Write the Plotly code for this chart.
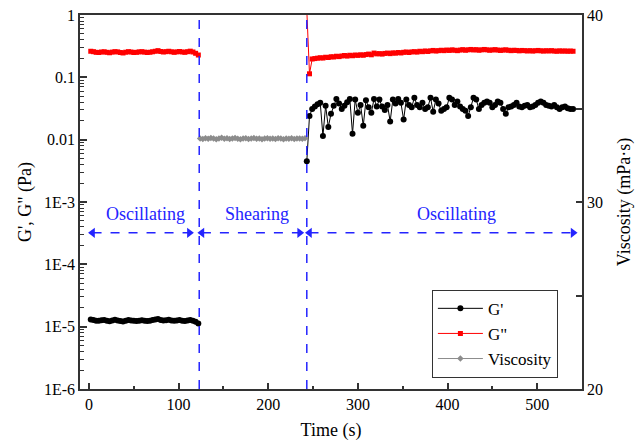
import plotly.graph_objects as go

# ---- Data -------------------------------------------------------------
# Oscillation step 1 (0-122 s)
t_osc1 = [2, 5, 8, 11, 14, 17, 20, 23, 26, 29, 32, 35, 38, 41, 44, 47, 50, 53, 56, 59,
          62, 65, 68, 71, 74, 77, 80, 83, 86, 89, 92, 95, 98, 101, 104, 107, 110, 113,
          116, 119, 122]
gp_osc1 = [1.30e-5, 1.28e-5, 1.24e-5, 1.25e-5, 1.27e-5, 1.28e-5, 1.24e-5, 1.22e-5, 1.26e-5,
           1.29e-5, 1.26e-5, 1.23e-5, 1.21e-5, 1.25e-5, 1.28e-5, 1.26e-5, 1.24e-5, 1.23e-5,
           1.25e-5, 1.27e-5, 1.25e-5, 1.23e-5, 1.25e-5, 1.28e-5, 1.30e-5, 1.33e-5, 1.28e-5,
           1.26e-5, 1.27e-5, 1.29e-5, 1.26e-5, 1.24e-5, 1.26e-5, 1.28e-5, 1.25e-5, 1.23e-5,
           1.26e-5, 1.28e-5, 1.24e-5, 1.20e-5, 1.12e-5]
gpp_osc1 = [0.262, 0.258, 0.252, 0.250, 0.255, 0.257, 0.252, 0.248, 0.254, 0.258, 0.256,
            0.250, 0.246, 0.253, 0.258, 0.255, 0.250, 0.252, 0.256, 0.258, 0.254, 0.250,
            0.253, 0.257, 0.262, 0.268, 0.260, 0.255, 0.258, 0.262, 0.257, 0.252, 0.256,
            0.260, 0.255, 0.252, 0.258, 0.263, 0.255, 0.243, 0.228]

# Steady shear step (124-241 s)
t_shear = [124, 127, 130, 133, 136, 139, 142, 145, 148, 151, 154, 157, 160, 163, 166, 169,
           172, 175, 178, 181, 184, 187, 190, 193, 196, 199, 202, 205, 208, 211, 214, 217,
           220, 223, 226, 229, 232, 235, 238, 241]
visc = [33.40, 33.37, 33.41, 33.38, 33.42, 33.39, 33.36, 33.40, 33.43, 33.38, 33.41, 33.37,
        33.40, 33.42, 33.38, 33.36, 33.40, 33.41, 33.37, 33.39, 33.42, 33.38, 33.40, 33.36,
        33.39, 33.41, 33.38, 33.40, 33.37, 33.41, 33.39, 33.36, 33.40, 33.38, 33.41, 33.37,
        33.39, 33.40, 33.38, 33.41]

# Oscillation step 2 (243-540 s)
t_osc2 = [243, 246, 249, 252, 255, 258, 261, 264, 267, 270, 273, 276, 279, 282, 285, 288,
          291, 294, 297, 300, 303, 306, 309, 312, 315, 318, 321, 324, 327, 330, 333, 336,
          339, 342, 345, 348, 351, 354, 357, 360, 363, 366, 369, 372, 375, 378, 381, 384,
          387, 390, 393, 396, 399, 402, 405, 408, 411, 414, 417, 420, 423, 426, 429, 432,
          435, 438, 441, 444, 447, 450, 453, 456, 459, 462, 465, 468, 471, 474, 477, 480,
          483, 486, 489, 492, 495, 498, 501, 504, 507, 510, 513, 516, 519, 522, 525, 528,
          531, 534, 537, 540]
gp_osc2 = [0.0045, 0.024, 0.031, 0.034, 0.037, 0.039, 0.0115, 0.035, 0.016, 0.026,
           0.035, 0.045, 0.038, 0.031, 0.035, 0.040, 0.045, 0.0124, 0.044, 0.027,
           0.036, 0.0167, 0.043, 0.033, 0.027, 0.045, 0.034, 0.044, 0.034, 0.030,
           0.036, 0.0196, 0.044, 0.038, 0.045, 0.039, 0.021, 0.044, 0.036, 0.033,
           0.047, 0.036, 0.033, 0.039, 0.031, 0.033, 0.047, 0.028, 0.044, 0.038,
           0.029, 0.031, 0.033, 0.047, 0.044, 0.036, 0.041, 0.034, 0.031, 0.029,
           0.024, 0.033, 0.047, 0.044, 0.031, 0.036, 0.039, 0.041, 0.039, 0.033,
           0.036, 0.041, 0.039, 0.031, 0.026, 0.033, 0.034, 0.036, 0.039, 0.034,
           0.033, 0.035, 0.036, 0.033, 0.034, 0.036, 0.039, 0.041, 0.039, 0.036,
           0.035, 0.034, 0.036, 0.033, 0.031, 0.033, 0.034, 0.032, 0.031, 0.031]
gpp_osc2 = [1.20, 0.114, 0.197, 0.200, 0.203, 0.206, 0.204, 0.210, 0.208, 0.214,
            0.212, 0.218, 0.215, 0.220, 0.224, 0.219, 0.226, 0.222, 0.228, 0.225,
            0.230, 0.226, 0.232, 0.236, 0.230, 0.245, 0.238, 0.240, 0.236, 0.242,
            0.245, 0.240, 0.247, 0.244, 0.250, 0.246, 0.252, 0.255, 0.250, 0.256,
            0.258, 0.254, 0.262, 0.258, 0.265, 0.260, 0.266, 0.270, 0.264, 0.268,
            0.272, 0.268, 0.274, 0.270, 0.276, 0.272, 0.268, 0.274, 0.278, 0.272,
            0.276, 0.280, 0.275, 0.278, 0.272, 0.276, 0.280, 0.276, 0.272, 0.275,
            0.278, 0.274, 0.270, 0.274, 0.276, 0.272, 0.268, 0.272, 0.270, 0.266,
            0.270, 0.268, 0.265, 0.268, 0.264, 0.267, 0.270, 0.266, 0.264, 0.267,
            0.265, 0.268, 0.264, 0.262, 0.266, 0.263, 0.265, 0.262, 0.264, 0.262]

# Step boundaries and step labels
step_bounds = [123, 243]
step_names = ["Oscillating", "Shearing", "Oscillating"]
step_label_x = [63, 187, 410]
step_spans = [(4, 112), (126, 235), (246, 540)]

y_ticks = [1e-6, 1e-5, 1e-4, 1e-3, 1e-2, 1e-1, 1]
y_ticktext = ["1E-6", "1E-5", "1E-4", "1E-3", "0.01", "0.1", "1"]
y_minor = [m * 10.0 ** e for e in range(-6, 0) for m in range(2, 10)]

# ---- Figure -----------------------------------------------------------
FONT = "Liberation Serif"
BLUE = "#2424ff"
AXIS = "#333333"

fig = go.Figure()

fig.add_trace(go.Scatter(
    x=t_osc1 + [None] + t_osc2, y=gp_osc1 + [None] + gp_osc2,
    name="G'", mode="lines+markers",
    line=dict(color="black", width=1),
    marker=dict(symbol="circle", size=6, color="black"),
))
fig.add_trace(go.Scatter(
    x=t_osc1 + [None] + t_osc2, y=gpp_osc1 + [None] + gpp_osc2,
    name='G"', mode="lines+markers",
    line=dict(color="red", width=1),
    marker=dict(symbol="square", size=5, color="red"),
))
fig.add_trace(go.Scatter(
    x=t_shear, y=visc, name="Viscosity", mode="lines+markers", yaxis="y2",
    line=dict(color="#8c8c8c", width=1),
    marker=dict(symbol="diamond", size=5, color="#8c8c8c"),
))

# Double-headed dashed arrows spanning each step
arrow_y = 3.2e-4
for x0, x1 in step_spans:
    fig.add_trace(go.Scatter(
        x=[x0, x1], y=[arrow_y, arrow_y], mode="lines+markers", showlegend=False,
        hoverinfo="skip",
        line=dict(color=BLUE, width=1.5, dash="dash"),
        marker=dict(symbol=["triangle-left", "triangle-right"], size=9, color=BLUE),
    ))

for xs, name in zip(step_label_x, step_names):
    fig.add_annotation(x=xs, y=-3.2, xref="x", yref="y", text=name, showarrow=False,
                       font=dict(family=FONT, size=18, color=BLUE))

for xb in step_bounds:
    fig.add_shape(type="line", x0=xb, x1=xb, y0=0, y1=1, xref="x", yref="paper",
                  line=dict(color=BLUE, width=1.5, dash="dash"))

fig.update_layout(
    width=640, height=441,
    margin=dict(l=80, r=58, t=15, b=52),
    paper_bgcolor="white", plot_bgcolor="white",
    font=dict(family=FONT, size=16, color="black"),
    showlegend=True,
    legend=dict(x=0.952, xanchor="right", y=0.03, yanchor="bottom",
                bgcolor="white", bordercolor=AXIS, borderwidth=1,
                font=dict(family=FONT, size=17, color="black"),
                itemwidth=45, tracegroupgap=0),
    xaxis=dict(
        range=[-10, 550], tickmode="array", tickvals=[0, 100, 200, 300, 400, 500],
        ticks="inside", ticklen=6, tickwidth=1.5, tickcolor=AXIS,
        minor=dict(tickmode="array", tickvals=[50, 150, 250, 350, 450],
                   ticks="inside", ticklen=3.5, tickwidth=1.5, tickcolor=AXIS),
        showline=True, linecolor=AXIS, linewidth=1.5, mirror=True,
        showgrid=False, zeroline=False, automargin=False,
        title=dict(text="Time (s)", font=dict(family=FONT, size=18), standoff=14),
        tickfont=dict(family=FONT, size=16),
    ),
    yaxis=dict(
        type="log", range=[-6, 0], tickmode="array", tickvals=y_ticks, ticktext=y_ticktext,
        ticks="inside", ticklen=7, tickwidth=1.5, tickcolor=AXIS,
        minor=dict(tickmode="array", tickvals=y_minor, ticks="inside", ticklen=4,
                   tickwidth=1, tickcolor=AXIS),
        showline=True, linecolor=AXIS, linewidth=1.5,
        showgrid=False, zeroline=False, automargin=False,
        title=dict(text="G', G\" (Pa)", font=dict(family=FONT, size=18), standoff=8),
        tickfont=dict(family=FONT, size=16),
    ),
    yaxis2=dict(
        overlaying="y", side="right", range=[20, 40], tickmode="array",
        tickvals=[20, 30, 40], ticks="inside", ticklen=6, tickwidth=1.5, tickcolor=AXIS,
        minor=dict(tickmode="array", tickvals=[25, 35], ticks="inside", ticklen=6,
                   tickwidth=1.5, tickcolor=AXIS),
        showline=True, linecolor=AXIS, linewidth=1.5,
        showgrid=False, zeroline=False, automargin=False,
        title=dict(text="Viscosity (mPa·s)", font=dict(family=FONT, size=18), standoff=15),
        tickfont=dict(family=FONT, size=16),
    ),
)

fig.write_html("out.html")
